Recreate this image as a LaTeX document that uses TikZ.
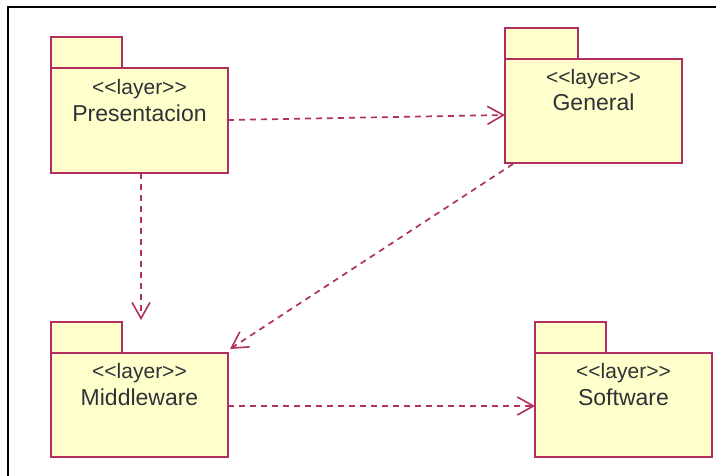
\documentclass[tikz,border=0pt]{standalone}
\usepackage{fontspec}
\newfontfamily\umlfont{Liberation Sans}
\usetikzlibrary{arrows.meta,calc}
\definecolor{pkgborder}{HTML}{B22E5E}
\definecolor{pkgfill}{HTML}{FFFFCC}
\definecolor{pkgtext}{HTML}{2E3236}
\definecolor{deparrow}{HTML}{B0305E}
\tikzset{
  pkgbody/.style={draw=pkgborder, fill=pkgfill, line width=1.8pt, rectangle, inner sep=0pt, outer sep=0pt, anchor=north west, minimum width=177pt, minimum height=105pt},
  pkgtab/.style={draw=pkgborder, fill=pkgfill, line width=1.8pt, rectangle, inner sep=0pt, outer sep=0pt, anchor=south west, minimum width=71pt, minimum height=31pt},
  stereo/.style={text=pkgtext, font=\umlfont\fontsize{21}{24}\selectfont, anchor=base, inner sep=0pt},
  pkgname/.style={text=pkgtext, font=\umlfont\fontsize{23}{26}\selectfont, anchor=base, inner sep=0pt},
  dep/.style={draw=deparrow, line width=1.7pt, dash pattern=on 6pt off 5pt, -{Straight Barb[length=16pt, width=18pt, line width=1.6pt]}}
}
\begin{document}
\begin{tikzpicture}[x=1pt, y=-1pt]
\useasboundingbox (0,0) rectangle (716,476);
\clip (0,0) rectangle (716,476);
\fill[white] (0,0) rectangle (716,476);
\draw[black, line width=2.2pt] (8,490) -- (8,7) -- (730,7);

% Presentacion
\node[pkgbody] (pres) at (51,68) {};
\node[pkgtab] (prestab) at (pres.north west) {};
\node[stereo] (presS) at (139.5,95) {<<layer>>};
\node[pkgname] (presN) at (139.5,122) {Presentacion};

% General
\node[pkgbody, minimum height=104pt] (gen) at (505,59) {};
\node[pkgtab, minimum width=73pt] (gentab) at (gen.north west) {};
\node[stereo] (genS) at (593.5,85) {<<layer>>};
\node[pkgname] (genN) at (593.5,111) {General};

% Middleware
\node[pkgbody, minimum height=104pt] (mid) at (51,353) {};
\node[pkgtab] (midtab) at (mid.north west) {};
\node[stereo] (midS) at (139.5,378) {<<layer>>};
\node[pkgname] (midN) at (139.5,406) {Middleware};

% Software
\node[pkgbody, minimum width=177pt, minimum height=104pt] (soft) at (535,353) {};
\node[pkgtab] (softtab) at (soft.north west) {};
\node[stereo] (softS) at (623.5,378) {<<layer>>};
\node[pkgname] (softN) at (623.5,406) {Software};

% dependencies
\coordinate (presTop) at (141,320);
\draw[dep] ($(pres.east)+(0,-0.5)$) -- ($(gen.west)+(0,4)$);
\draw[dep] (pres.south -| presTop) -- (presTop);
\draw[dep] ($(gen.south west)+(8,1)$) -- ($(mid.north east)+(2,-4)$);
\draw[dep] ($(mid.east)+(0,1)$) -- ($(soft.west)+(0,1)$);
\end{tikzpicture}
\end{document}
